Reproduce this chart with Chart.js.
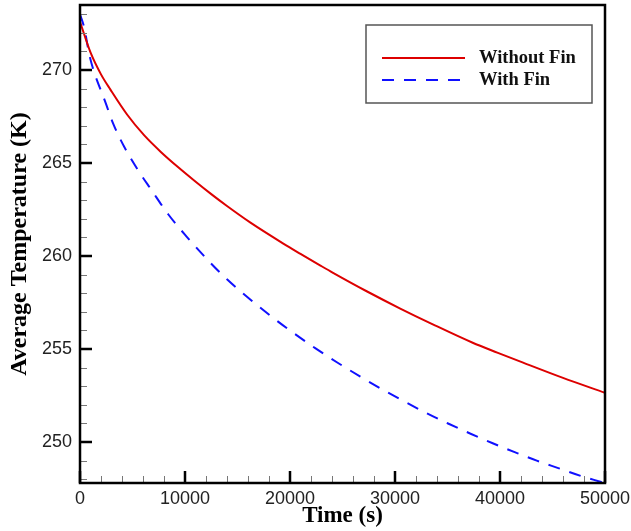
<!DOCTYPE html>
<html>
<head>
<meta charset="utf-8">
<script src="https://cdn.jsdelivr.net/npm/chart.js@4"></script>
<style>
  body { margin: 0; background: #fff; }
  canvas { display: block; }
</style>
</head>
<body>
<canvas id="tempChart" width="631" height="531"></canvas>
<script>
// Values
var redTime  = [0, 1000, 2000, 2900, 4500, 6100, 7700, 9300, 10900, 12500, 14000, 16200, 19400, 21000, 22900, 24100, 27300, 30500, 33600, 37400, 39800, 42200, 46000, 50000];
var redTemp  = [272.6, 270.95, 269.77, 268.95, 267.6, 266.5, 265.6, 264.8, 264.05, 263.33, 262.69, 261.81, 260.66, 260.12, 259.49, 259.1, 258.11, 257.18, 256.33, 255.34, 254.8, 254.27, 253.45, 252.65];

var blueTime = [0, 400, 930, 2460, 3160, 4210, 5480, 6810, 8400, 10150, 11900, 14000, 16100, 18300, 20000, 22400, 24500, 26700, 28700, 30900, 33000, 35050, 37200, 39250, 41400, 43500, 45550, 47700, 49650, 50000];
var blueTemp = [273.0, 272.28, 270.72, 268.21, 267.12, 265.88, 264.66, 263.55, 262.25, 261.05, 259.95, 258.75, 257.72, 256.72, 256.0, 255.05, 254.28, 253.52, 252.86, 252.18, 251.56, 251.0, 250.45, 249.95, 249.46, 249.0, 248.6, 248.18, 247.85, 247.79];

var xTicks = [0, 10000, 20000, 30000, 40000, 50000];
var yTicks = [250, 255, 260, 265, 270];
var xMinorStep = 2000;
var yMinorStep = 1;

function toPoints(xs, ys) {
    return xs.map(function (v, i) { return { x: v, y: ys[i] }; });
}

// frame around the plot, inward ticks and the boxed legend
var frameTicks = {
    id: 'frameTicks',
    afterDatasetsDraw: function (chart) {
        var ctx = chart.ctx, a = chart.chartArea;
        var x = chart.scales.x, y = chart.scales.y;
        ctx.save();
        // minor ticks
        ctx.strokeStyle = '#777';
        ctx.lineWidth = 1;
        ctx.beginPath();
        for (var v = x.min; v <= x.max; v += xMinorStep) {
            var px = Math.round(x.getPixelForValue(v)) + 0.5;
            ctx.moveTo(px, a.bottom);
            ctx.lineTo(px, a.bottom - 7);
        }
        for (var t = Math.ceil(y.min); t <= y.max; t += yMinorStep) {
            var py = Math.round(y.getPixelForValue(t)) + 0.5;
            ctx.moveTo(a.left, py);
            ctx.lineTo(a.left + 7, py);
        }
        ctx.stroke();
        // major ticks
        ctx.strokeStyle = '#000';
        ctx.lineWidth = 2.5;
        ctx.beginPath();
        xTicks.forEach(function (v) {
            var px = x.getPixelForValue(v);
            ctx.moveTo(px, a.bottom);
            ctx.lineTo(px, a.bottom - 12);
        });
        yTicks.forEach(function (v) {
            var py = y.getPixelForValue(v);
            ctx.moveTo(a.left, py);
            ctx.lineTo(a.left + 12, py);
        });
        ctx.stroke();
        // frame
        ctx.strokeRect(a.left, a.top, a.right - a.left, a.bottom - a.top);
        ctx.restore();
    },
    afterDraw: function (chart) {
        var ctx = chart.ctx, a = chart.chartArea;
        var bx = a.right - 239, by = a.top + 20, bw = 226, bh = 78;
        ctx.save();
        ctx.fillStyle = '#fff';
        ctx.fillRect(bx, by, bw, bh);
        ctx.strokeStyle = '#555';
        ctx.lineWidth = 1.5;
        ctx.strokeRect(bx, by, bw, bh);
        ctx.font = 'bold 18.5px "Liberation Serif", "Times New Roman", serif';
        ctx.textBaseline = 'middle';
        ctx.fillStyle = '#111';
        chart.data.datasets.forEach(function (ds, i) {
            var ly = by + 33 + i * 22;
            ctx.strokeStyle = ds.borderColor;
            ctx.lineWidth = ds.borderWidth;
            ctx.setLineDash(ds.borderDash || []);
            ctx.beginPath();
            ctx.moveTo(bx + 16, ly);
            ctx.lineTo(bx + 99, ly);
            ctx.stroke();
            ctx.setLineDash([]);
            ctx.fillText(ds.label, bx + 113, ly);
        });
        ctx.restore();
    }
};

var ctx = document.getElementById('tempChart').getContext('2d');
var tempChart = new Chart(ctx, {
    type: 'line',
    data: {
        datasets: [{
            label: 'Without Fin',
            data: toPoints(redTime, redTemp),
            borderColor: '#dd0000',
            borderWidth: 2,
            pointRadius: 0,
            cubicInterpolationMode: 'monotone',
            fill: false
        }, {
            label: 'With Fin',
            data: toPoints(blueTime, blueTemp),
            borderColor: '#1010ff',
            borderWidth: 2,
            borderDash: [12, 10],
            pointRadius: 0,
            cubicInterpolationMode: 'monotone',
            fill: false
        }]
    },
    options: {
        responsive: false,
        animation: false,
        layout: { padding: { top: 5, right: 0, left: 0, bottom: 0 } },
        plugins: {
            legend: { display: false },
            tooltip: { enabled: false }
        },
        scales: {
            x: {
                type: 'linear',
                min: 0,
                max: 50000,
                afterBuildTicks: function (s) { s.ticks = xTicks.map(function (v) { return { value: v }; }); },
                afterFit: function (s) { s.height = 48; s.paddingLeft = 0; s.paddingRight = 26; },
                grid: { display: false, drawTicks: false },
                border: { display: false },
                ticks: {
                    padding: 5,
                    maxRotation: 0,
                    autoSkip: false,
                    color: '#222',
                    font: { family: '"Liberation Sans", Arial, sans-serif', size: 18 },
                    callback: function (v) { return String(v); }
                },
                title: {
                    display: true,
                    text: 'Time (s)',
                    color: '#000',
                    padding: { top: 0, bottom: 3 },
                    font: { family: '"Liberation Serif", "Times New Roman", serif', size: 23, weight: 'bold', lineHeight: 1 }
                }
            },
            y: {
                type: 'linear',
                min: 247.8,
                max: 273.5,
                afterBuildTicks: function (s) { s.ticks = yTicks.map(function (v) { return { value: v }; }); },
                afterFit: function (s) { s.width = 80; s.paddingTop = 0; s.paddingBottom = 0; },
                grid: { display: false, drawTicks: false },
                border: { display: false },
                ticks: {
                    padding: 8,
                    color: '#222',
                    font: { family: '"Liberation Sans", Arial, sans-serif', size: 18 },
                    callback: function (v) { return String(v); }
                },
                title: {
                    display: true,
                    text: 'Average Temperature (K)',
                    color: '#000',
                    padding: { top: 8, bottom: 8 },
                    font: { family: '"Liberation Serif", "Times New Roman", serif', size: 24, weight: 'bold', lineHeight: 1 }
                }
            }
        }
    },
    plugins: [frameTicks]
});
</script>
</body>
</html>
